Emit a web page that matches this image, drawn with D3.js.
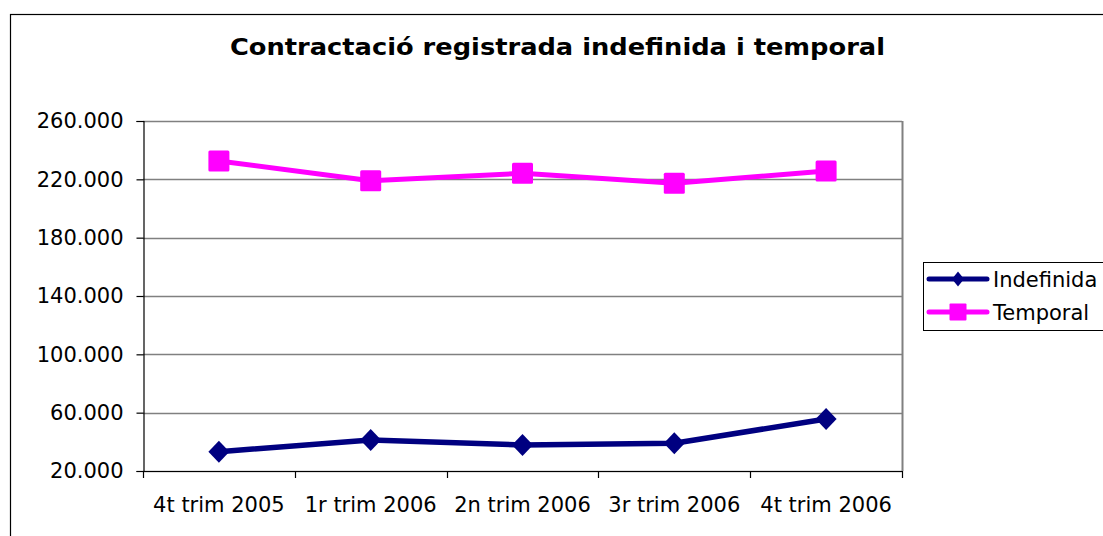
<!DOCTYPE html>
<html>
<head>
<meta charset="utf-8">
<script src="https://cdn.jsdelivr.net/npm/d3@7"></script>
<style>
  html, body { margin: 0; padding: 0; background: #fff; }
  svg { display: block; }
  text { font-family: "DejaVu Sans", Verdana, sans-serif; fill: #000; }
</style>
</head>
<body>
<svg id="chart" width="1103" height="536"></svg>
<script>
'use strict';

// chart data
const categories = ['4t trim 2005', '1r trim 2006', '2n trim 2006', '3r trim 2006', '4t trim 2006'];
const indefinida = [33200, 41300, 37800, 39000, 55700];
const temporal = [232600, 219000, 224100, 217300, 225700];
const yTicks = [20000, 60000, 100000, 140000, 180000, 220000, 260000];
const seriesNames = ['Indefinida', 'Temporal'];

const plot = { left: 143, right: 902, top: 121, bottom: 471 };
const navy = '#000080';
const magenta = '#ff00ff';

const locale = d3.formatLocale({ decimal: ',', thousands: '.', grouping: [3], currency: ['', '€'] });
const fmt = locale.format(',d');

const svg = d3.select('#chart');

const x = d3.scaleBand().domain(categories).range([plot.left, plot.right]).paddingInner(0).paddingOuter(0);
const y = d3.scaleLinear().domain([20000, 260000]).range([plot.bottom, plot.top]);
const cx = c => x(c) + x.bandwidth() / 2;

// outer chart frame
svg.append('rect')
    .attr('x', 10.5).attr('y', 14.5)
    .attr('width', 1200).attr('height', 600)
    .attr('fill', 'none').attr('stroke', '#000').attr('stroke-width', 1.2);

// title
svg.append('text')
    .attr('x', 557.5).attr('y', 55)
    .attr('text-anchor', 'middle')
    .attr('font-size', '23px').attr('font-weight', 'bold')
    .attr('textLength', 655).attr('lengthAdjust', 'spacingAndGlyphs')
    .text('Contractació registrada indefinida i temporal');

// gridlines
svg.append('g').selectAll('line')
    .data(yTicks)
    .enter().append('line')
    .attr('x1', plot.left).attr('x2', plot.right)
    .attr('y1', d => Math.round(y(d)) + 0.5).attr('y2', d => Math.round(y(d)) + 0.5)
    .attr('stroke', '#808080').attr('stroke-width', 1.5);

// plot area border (right side)
svg.append('line')
    .attr('x1', plot.right + 0.5).attr('x2', plot.right + 0.5)
    .attr('y1', plot.top).attr('y2', plot.bottom)
    .attr('stroke', '#808080').attr('stroke-width', 2);

// y axis
const yAxis = d3.axisLeft(y).tickValues(yTicks).tickSize(7).tickPadding(13).tickFormat(fmt);
const gy = svg.append('g').attr('transform', `translate(${plot.left + 0.5},0)`).call(yAxis);
gy.select('.domain').attr('stroke', '#000').attr('stroke-width', 1.2);
gy.selectAll('.tick line').attr('stroke', '#000').attr('stroke-width', 1.2);
gy.selectAll('.tick text')
    .attr('font-family', '"DejaVu Sans", Verdana, sans-serif')
    .attr('font-size', '21px').attr('fill', '#000');

// x axis, ticks between categories
const xEdges = categories.map(c => x(c)).concat([plot.right]);
const gx = svg.append('g');
gx.append('line')
    .attr('x1', plot.left).attr('x2', plot.right + 1)
    .attr('y1', plot.bottom + 0.5).attr('y2', plot.bottom + 0.5)
    .attr('stroke', '#000').attr('stroke-width', 1.2);
gx.selectAll('.xtick')
    .data(xEdges)
    .enter().append('line')
    .attr('class', 'xtick')
    .attr('x1', d => Math.round(d) + 0.5).attr('x2', d => Math.round(d) + 0.5)
    .attr('y1', plot.bottom).attr('y2', plot.bottom + 7)
    .attr('stroke', '#000').attr('stroke-width', 1.2);
gx.selectAll('.xlabel')
    .data(categories)
    .enter().append('text')
    .attr('class', 'xlabel')
    .attr('x', d => cx(d)).attr('y', 512)
    .attr('text-anchor', 'middle')
    .attr('font-size', '21px')
    .text(d => d);

// lines
const line = d3.line().x((d, i) => cx(categories[i])).y(d => y(d));

svg.append('path')
    .datum(indefinida)
    .attr('d', line)
    .attr('fill', 'none').attr('stroke', navy).attr('stroke-width', 5.5)
    .attr('stroke-linejoin', 'round');

svg.append('path')
    .datum(temporal)
    .attr('d', line)
    .attr('fill', 'none').attr('stroke', magenta).attr('stroke-width', 5)
    .attr('stroke-linejoin', 'round');

// markers
const diamond = (w, h) => `M0,${-h / 2}L${w / 2},0L0,${h / 2}L${-w / 2},0Z`;

svg.selectAll('.dmark')
    .data(indefinida)
    .enter().append('path')
    .attr('class', 'dmark')
    .attr('d', diamond(21, 22))
    .attr('transform', (d, i) => `translate(${cx(categories[i])},${y(d)})`)
    .attr('fill', navy);

svg.selectAll('.smark')
    .data(temporal)
    .enter().append('rect')
    .attr('class', 'smark')
    .attr('x', (d, i) => cx(categories[i]) - 10.5)
    .attr('y', d => y(d) - 10.5)
    .attr('width', 21).attr('height', 21)
    .attr('rx', 1.5)
    .attr('fill', magenta);

// legend
const legend = svg.append('g');
legend.append('rect')
    .attr('x', 923.5).attr('y', 262.5)
    .attr('width', 300).attr('height', 68)
    .attr('fill', '#fff').attr('stroke', '#000').attr('stroke-width', 1);

const legendY = [279, 312];
const legendColors = [navy, magenta];
seriesNames.forEach((name, i) => {
    const ly = legendY[i];
    legend.append('line')
        .attr('x1', 929).attr('x2', 987)
        .attr('y1', ly).attr('y2', ly)
        .attr('stroke', legendColors[i]).attr('stroke-width', 5)
        .attr('stroke-linecap', 'round');
    if (i === 0) {
        legend.append('path')
            .attr('d', diamond(12, 15))
            .attr('transform', `translate(958,${ly})`)
            .attr('fill', navy);
    } else {
        legend.append('rect')
            .attr('x', 958 - 8.5).attr('y', ly - 8.5)
            .attr('width', 17).attr('height', 17)
            .attr('rx', 1)
            .attr('fill', magenta);
    }
    legend.append('text')
        .attr('x', 993).attr('y', ly + 8)
        .attr('font-size', '21px')
        .text(name);
});
</script>
</body>
</html>
